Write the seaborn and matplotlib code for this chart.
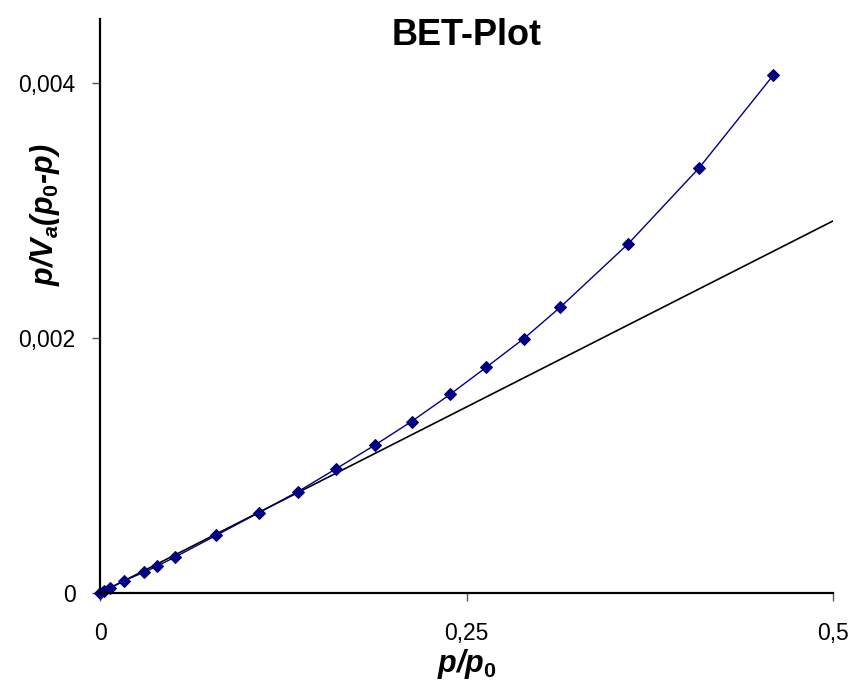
import matplotlib
matplotlib.use("Agg")
import matplotlib.pyplot as plt
import seaborn as sns
import pandas as pd

# BET isotherm: relative pressure and p / (Va (p0 - p))
rel_pressure = [0.0003, 0.0027, 0.0068, 0.0167, 0.0297, 0.0392, 0.0512, 0.0791,
                0.1085, 0.1351, 0.1613, 0.1876, 0.2125, 0.2387, 0.2633, 0.2892,
                0.3141, 0.3605, 0.4086, 0.4594]
bet_value = [0.0000000, 0.0000157, 0.0000390, 0.0000980, 0.0001610, 0.0002120,
             0.0002820, 0.0004510, 0.0006310, 0.0007960, 0.0009760, 0.0011610,
             0.0013450, 0.0015570, 0.0017690, 0.0019960, 0.0022430, 0.0027410,
             0.0033330, 0.0040630]

# linear BET fit over the low-pressure range
fit_x = [0.0, 0.5]
fit_y = [0.0, 0.002918]

x_ticks = [0.0, 0.25, 0.5]
x_tick_labels = ["0", "0,25", "0,5"]
y_ticks = [0.0, 0.002, 0.004]
y_tick_labels = ["0", "0,002", "0,004"]

sns.set_style("ticks")
plt.rcParams["font.family"] = ["Liberation Sans", "DejaVu Sans"]
plt.rcParams["text.color"] = "black"
plt.rcParams["axes.labelcolor"] = "black"
plt.rcParams["mathtext.fontset"] = "custom"
plt.rcParams["mathtext.it"] = "Liberation Sans:italic:bold"
plt.rcParams["mathtext.rm"] = "Liberation Sans:bold"
plt.rcParams["mathtext.bf"] = "Liberation Sans:bold"

df = pd.DataFrame({"x": rel_pressure, "y": bet_value})
fit = pd.DataFrame({"x": fit_x, "y": fit_y})

fig = plt.figure(figsize=(8.55, 6.82), dpi=100)
ax = fig.add_axes([100 / 855, 1 - 593 / 682, 733 / 855, (593 - 19.25) / 682])

sns.lineplot(data=fit, x="x", y="y", ax=ax, color="black", linewidth=1.2)
sns.lineplot(data=df, x="x", y="y", ax=ax, color="#000080", linewidth=1.0,
             marker="D", markersize=6, markeredgecolor="#000080",
             markerfacecolor="#000080", sort=False, clip_on=False)

ax.set_xlim(0, 0.5)
ax.set_ylim(0, 0.0045)
ax.set_xticks(x_ticks)
ax.set_xticklabels(x_tick_labels)
ax.set_yticks(y_ticks)
ax.set_yticklabels(y_tick_labels)
ax.tick_params(axis="both", direction="out", length=6, width=1.0, color="#555555",
               labelsize=16.5, labelcolor="black")
ax.tick_params(axis="x", pad=15)
ax.tick_params(axis="y", pad=11.5)

for side in ("top", "right"):
    ax.spines[side].set_visible(False)
for side in ("left", "bottom"):
    ax.spines[side].set_linewidth(1.6)
    ax.spines[side].set_color("black")

ax.set_xlabel(r"$p$/$p_0$", fontsize=22, fontweight="bold", style="italic",
              color="black")
ax.xaxis.set_label_coords(0.5, -0.094)
ax.set_ylabel(r"$p$/$V_a$($p_0$-$p$)", fontsize=22, fontweight="bold", style="italic",
              color="black")
ax.yaxis.set_label_coords(-0.052, 0.659)

fig.text(467 / 855, 1 - 45 / 682, "BET-Plot", fontsize=26, fontweight="bold",
         ha="center", va="baseline", color="black")

fig.savefig("out.png", dpi=100)
